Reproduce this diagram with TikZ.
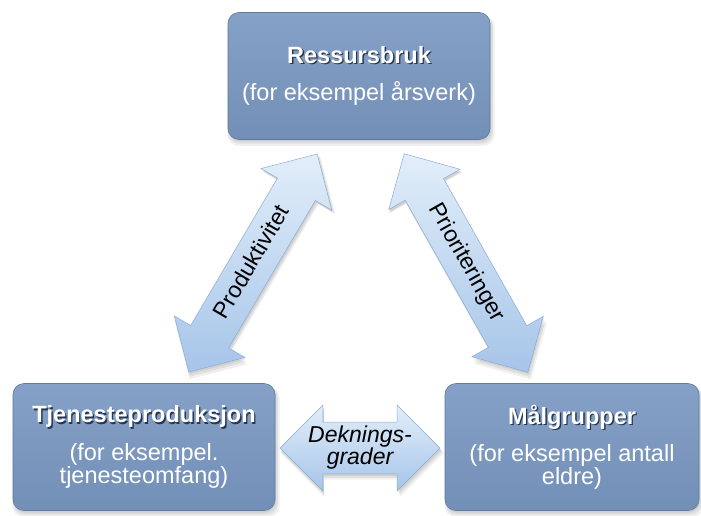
\documentclass[tikz,border=0pt]{standalone}
\usepackage{fontspec}
\setmainfont{Liberation Sans}
\usetikzlibrary{shapes.arrows,shadows}

\definecolor{panelTop}{RGB}{134,161,199}
\definecolor{panelBottom}{RGB}{114,143,183}
\definecolor{panelRim}{RGB}{96,122,160}
\definecolor{titleShade}{RGB}{40,55,80}
\definecolor{arrowLight}{RGB}{226,238,250}
\definecolor{arrowDark}{RGB}{166,197,233}
\definecolor{arrowRim}{RGB}{140,172,210}

% bold white title with a small dark shadow behind it
\newcommand{\shadedtitle}[1]{%
  \makebox[0pt][l]{\hspace{1.4pt}\raisebox{-1.4pt}{\textcolor{titleShade}{\bfseries #1}}}%
  {\bfseries #1}}

\tikzset{
  x=1pt, y=1pt,
  softshadow/.style={
    general shadow={fill=black, opacity=0.07, shadow xshift=1pt, shadow yshift=-2pt},
    general shadow={fill=black, opacity=0.07, shadow xshift=1.5pt, shadow yshift=-3.5pt, shadow scale=1.01},
    general shadow={fill=black, opacity=0.06, shadow xshift=2pt, shadow yshift=-5pt, shadow scale=1.02},
  },
  panel/.style={rectangle, rounded corners=11pt, minimum height=127pt, inner sep=0pt,
    top color=panelTop, bottom color=panelBottom, draw=panelRim, line width=0.6pt,
    text=white, align=center, font=\fontsize{23.5}{23}\selectfont, softshadow},
  linkarrow/.style={double arrow, double arrow tip angle=90, inner xsep=2pt,
    top color=arrowLight, bottom color=arrowDark, draw=arrowRim, line width=0.5pt,
    text=black, align=center, softshadow},
  slantlabel/.style={inner ysep=11pt, text height=16.5pt, text depth=5pt,
    font=\fontsize{23}{24}\selectfont},
}

\begin{document}
\begin{tikzpicture}
\useasboundingbox (0,0) rectangle (701,515);

% the three boxes
\node[panel, minimum width=262pt] (ress) at (359,439)
  {\shadedtitle{Ressursbruk}\\[14pt](for eksempel årsverk)};
\node[panel, minimum width=262pt] (tjen) at (144,68)
  {\shadedtitle{Tjenesteproduksjon}\\[13pt](for eksempel.\\tjenesteomfang)};
\node[panel, minimum width=254pt] (malg) at (572,68)
  {\shadedtitle{Målgrupper}\\[13pt](for eksempel antall\\eldre)};

% double block arrows between the boxes
\node[linkarrow, slantlabel, rotate=59.5, minimum height=253pt, minimum width=82pt,
  double arrow head extend=19pt] (prod) at (253,252) {Produktivitet};
\node[linkarrow, slantlabel, rotate=-60.5, minimum height=251pt, minimum width=82pt,
  double arrow head extend=19pt] (prio) at (466,252) {Prioriteringer};
\node[linkarrow, minimum height=154pt, minimum width=86pt,
  double arrow head extend=17pt, inner ysep=4pt,
  font=\itshape\fontsize{23}{22}\selectfont] (dekn) at (360,67) {Deknings-\\grader};
\end{tikzpicture}
\end{document}
